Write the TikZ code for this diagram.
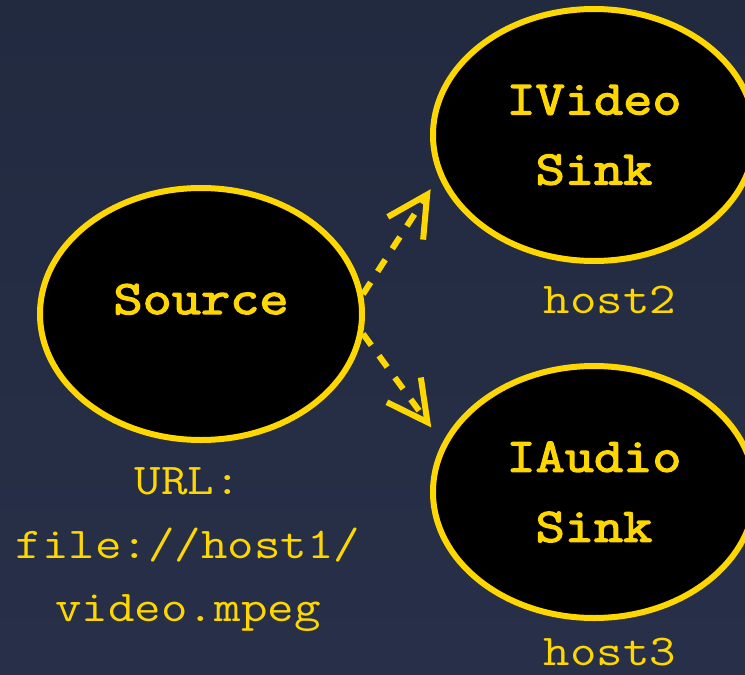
\documentclass[tikz,border=0pt]{standalone}
\usepackage{fontspec}
\newfontfamily\typewriter{Latin Modern Mono}[FakeStretch=1.17]
\newfontfamily\typewriterbold{Latin Modern Mono}[FakeStretch=1.18,FakeBold=3]
\usepackage{xcolor}
\usetikzlibrary{shapes.geometric,arrows.meta}
\definecolor{bgtop}{HTML}{222A40}
\definecolor{bgbottom}{HTML}{283049}
\definecolor{gold}{HTML}{FFD700}

\begin{document}
\begin{tikzpicture}[x=1pt,y=-1pt,
	blob/.style={ellipse,draw=gold,fill=black,line width=6pt,minimum width=322pt,minimum height=252pt,inner sep=0pt,text=gold,font=\typewriterbold\fontsize{48}{70}\selectfont,align=center},
	host/.style={text=gold,font=\typewriter\fontsize{44}{63.5}\selectfont,align=center,inner sep=0pt},
	link/.style={gold,line width=6pt,dash pattern=on 14pt off 13pt,-{Straight Barb[length=40pt,width=42pt]}}]
	\useasboundingbox (0,0) rectangle (745,675);
	\shade[top color=bgtop,bottom color=bgbottom] (0,0) rectangle (745,675);
	
	\node[blob,text depth=30pt] (src) at (201,314) {Source};
	\node[blob] (vsink) at (594,135) {IVideo\\Sink};
	\node[blob] (asink) at (594,492) {IAudio\\Sink};
	
	\node[host,anchor=base] (host2) at (610,313) {host2};
	\node[host,anchor=base] (host3) at (610,665) {host3};
	\node[host] (url) at (188,550) {URL:\\file://host1/\\video.mpeg};
	
	\draw[link,shorten >=15pt] (src.7) -- (vsink.195);
	\draw[link,shorten >=19pt] (src.-7) -- (asink.162);
\end{tikzpicture}
\end{document}
